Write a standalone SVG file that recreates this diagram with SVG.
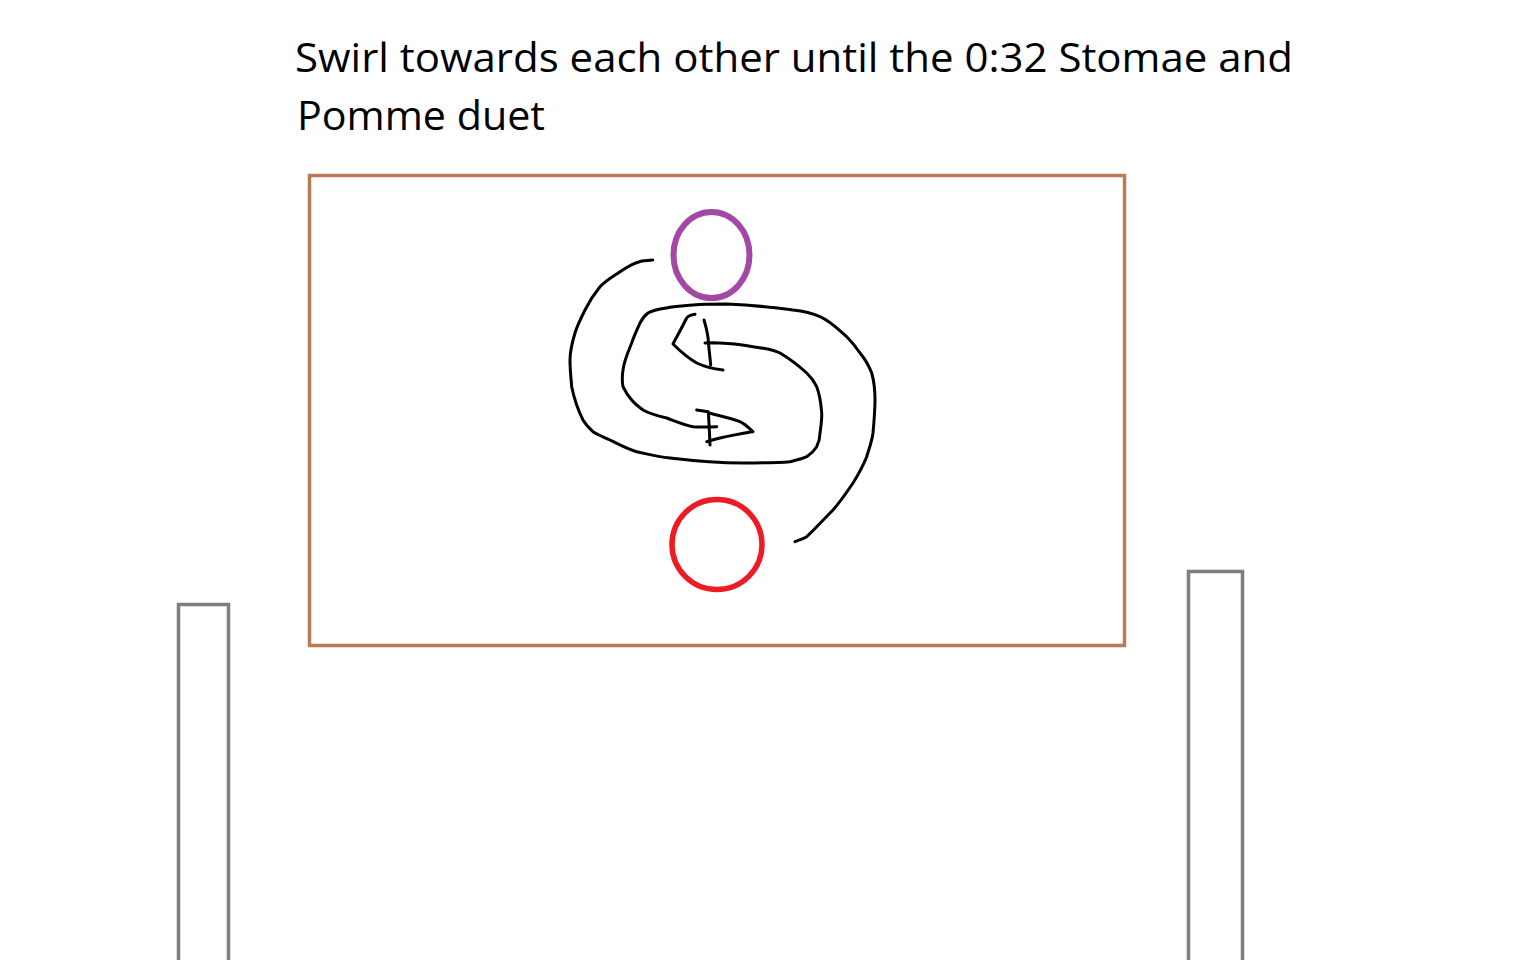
<svg xmlns="http://www.w3.org/2000/svg" width="1536" height="960" viewBox="0 0 1536 960">
<style>
.t{font-family:"Open Sans","Noto Sans","Liberation Sans",sans-serif;font-size:40px;fill:#000}
.ink{fill:none;stroke:#000;stroke-width:3;stroke-linecap:round;stroke-linejoin:round}
.post{fill:none;stroke:#7F7F7F;stroke-width:3.5}
</style>
<rect width="1536" height="960" fill="#fff"/>
<g id="title">
<text class="t" x="295" y="72" textLength="998" lengthAdjust="spacingAndGlyphs">Swirl towards each other until the 0:32 Stomae and</text>
<text class="t" x="297" y="130" textLength="248" lengthAdjust="spacingAndGlyphs">Pomme duet</text>
</g>
<g id="stage"><rect x="309.5" y="175.5" width="815" height="470" fill="none" stroke="#B97A57" stroke-width="3.5"/></g>
<g id="post-left"><rect x="178.5" y="604.5" width="50" height="370" class="post"/></g>
<g id="post-right"><rect x="1188.5" y="571.5" width="54" height="400" class="post"/></g>
<g id="dancer-purple"><ellipse cx="711.5" cy="255" rx="38" ry="43" fill="none" stroke="#A349A4" stroke-width="6"/></g>
<g id="dancer-red"><circle cx="717" cy="544.5" r="45" fill="none" stroke="#ED1C24" stroke-width="5.5"/></g>
<g id="connectors">
<path class="ink" d="M652.7,260 L641.7,261 C633,263 627,267 620,271.7 C612,277 605,281 600,286.7 C594,294 589,302 585,310 C580,320 577,326 575,333 C572,343 570,351 570,360 C570,370 571,378 571.7,386.7 C574,398 578,410 583,420 C586,425 589,428 593,431.7 C598,435 604,437 610,440 C618,444 627,449 636.7,451.7 C647,454 658,457 670,458 C695,461 720,463 743,463 C760,463 775,463 790,461.7 C797,460 802,459 806.7,456.7 C811,454 814,451 816.7,446.7 C819,442 820,438 820,433 C821,426 822,420 821.7,413 C821,404 820,395 816.7,386.7 C814,381 811,377 806.7,373 C798,365 790,359 780,353 C772,349 763,348 753,346.7 C740,344 727,343 713,342.7 L705,343"/>
<path class="ink" d="M795,541.7 C799,540 803,539 806.7,536.7 C815,529 824,519 833,510 C840,502 847,492 853,483 C858,475 863,466 866.7,456.7 C869,449 872,441 873,433 C874,422 875,411 875,400 C875,390 874,381 871.7,373 C869,366 865,359 860,353 C856,347 852,342 846.7,336.7 C838,329 830,321 820,316.7 C812,313 803,311 793,310 C771,307 749,305 726.7,304 C715,304 704,304 693,305 C684,306 675,306 666.7,308 C660,309 653,310 648,313 C644,316 642,319 640,323 C637,330 634,336 631.7,343 C628,352 624,361 623,370 C622,376 622,381 623,386.7 C625,391 628,396 631.7,400 C635,404 639,407 643,410 C650,414 658,416 666.7,418 C675,421 684,425 693,426.7 C700,427 706,427 716.7,426.7"/>
<path class="ink" d="M695,314.3 C691,315 688,316 686.7,318 C683,325 679,333 675,340 L673,344 C680,351 688,358 696.7,363 C705,367 714,369 723,370"/>
<path class="ink" d="M704,320 C706,327 708,333 708.5,343 C709,350 710,357 710.7,365"/>
<path class="ink" d="M696.7,410 L708.3,411.7 C709,422 709.5,433 710,445"/>
<path class="ink" d="M710,413.3 C720,416 730,418 740,421.7 C745,424 749,428 753,431.7 L751.7,431.7 C740,434 727,436 715,439.3 L706.7,441.7"/>
</g>
</svg>
